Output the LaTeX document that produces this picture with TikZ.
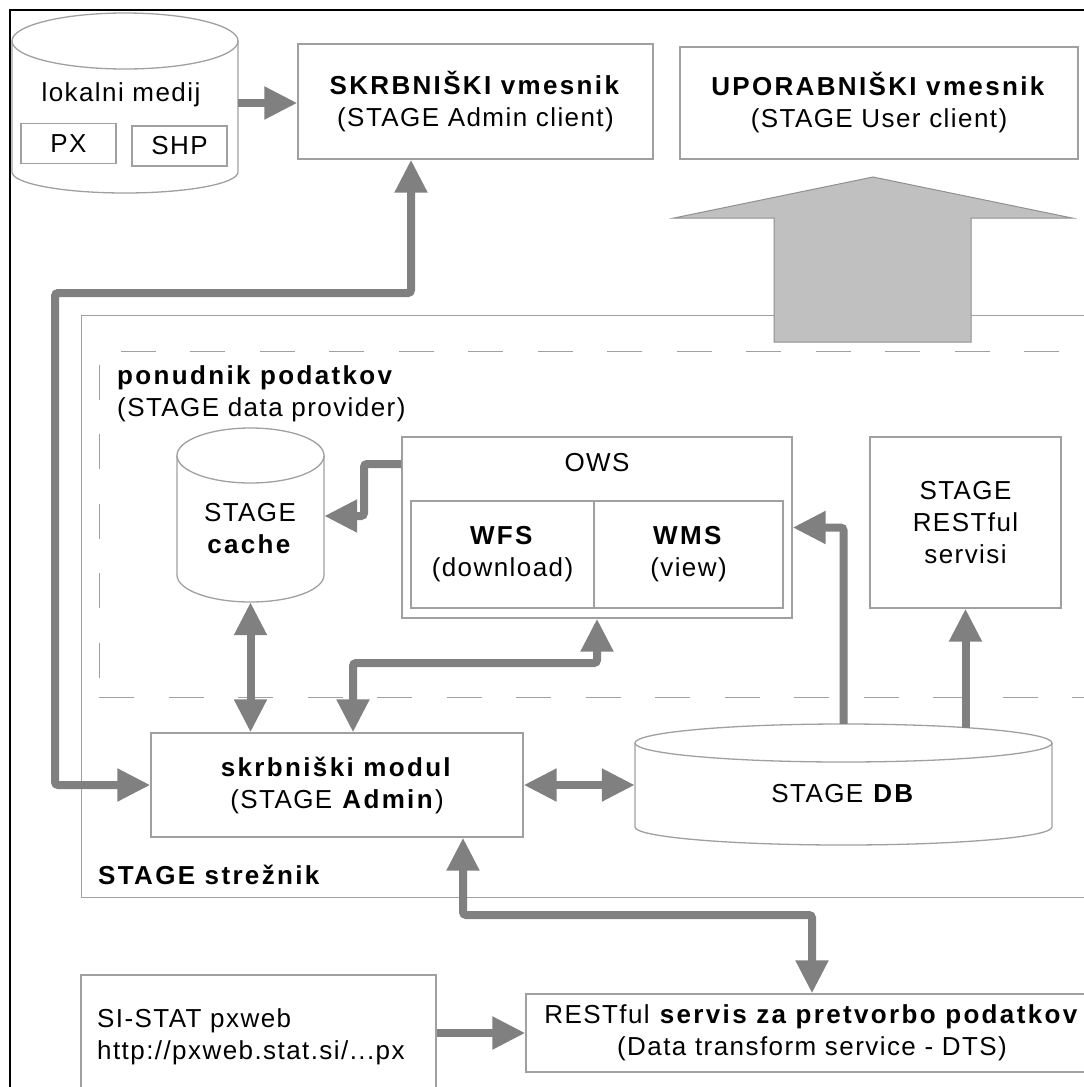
\documentclass[tikz,border=0pt]{standalone}
\usepackage{fontspec}
\setmainfont{Liberation Sans}[LetterSpace=5.5,BoldFeatures={LetterSpace=9}]
\usetikzlibrary{arrows.meta}
\definecolor{boxgray}{HTML}{A0A0A0}
\definecolor{arrgray}{HTML}{808080}
\definecolor{bigfill}{HTML}{C0C0C0}
\definecolor{bigline}{HTML}{909090}
\begin{document}
\begin{tikzpicture}[x=1pt,y=-1pt,
  every node/.style={font=\fontsize{26}{32}\selectfont, inner sep=0pt},
  box/.style={draw=boxgray, line width=1.3pt, fill=white, rectangle, align=center},
  anchorbox/.style={rectangle, inner sep=0pt},
  conn/.style={draw=arrgray, line width=8pt, rounded corners=3pt, -{Triangle[length=33pt,width=31pt]}},
  dconn/.style={conn, {Triangle[length=33pt,width=31pt]}-{Triangle[length=33pt,width=31pt]}},
  cylline/.style={draw=boxgray, line width=1.3pt}
]
\useasboundingbox (0,0) rectangle (1084,1087);
\clip (0,0) rectangle (1084,1087);
\fill[white] (0,0) rectangle (1084,1087);

% outer frame
\draw[line width=2pt] (10,1100) -- (10,10) -- (1100,10);

% server box and data provider box
\node[draw=boxgray, line width=1.3pt, minimum width=1019, minimum height=582, anchor=north west] (srv) at (81,315) {};
\node[draw=boxgray, line width=1.3pt, dash pattern=on 35pt off 34.5pt, minimum width=1002, minimum height=346, anchor=north west] (prov) at (98.5,351) {};
\node[anchor=west] (srvlbl) at (98,875) {\textbf{STAGE strežnik}};
\node[anchor=west, align=left] (provlbl) at (117,394) {\textbf{ponudnik podatkov}\\(STAGE data provider)};

% big arrow to user client
\draw[draw=bigline, line width=1pt, fill=bigfill] (873,177) -- (1072,218) -- (971,218) -- (971,342) -- (774,342) -- (774,218) -- (674,218) -- cycle;

% lokalni medij cylinder
\draw[cylline] (12,41) -- (12,172) arc[start angle=180,end angle=0,x radius=113,y radius=21] -- (238,41);
\draw[cylline] (125,41) ellipse[x radius=113, y radius=28];
\node[anchorbox, minimum width=226, minimum height=180] (lokal) at (125,103) {};
\node (lokaltxt) at (121,95) {lokalni medij};
\node[box, minimum width=95, minimum height=40] (px) at (68.5,143.5) {PX};
\node[box, minimum width=95, minimum height=40] (shp) at (179.5,146) {SHP};

% clients
\node[box, minimum width=355, minimum height=115] (skrb) at (475.5,101.5) {\textbf{SKRBNIŠKI vmesnik}\\(STAGE Admin client)};
\node[box, minimum width=398, minimum height=112] (upor) at (879,103) {\textbf{UPORABNIŠKI vmesnik}\\(STAGE User client)};

% cache cylinder
\draw[cylline] (177,455.5) -- (177,575) arc[start angle=180,end angle=0,x radius=73.5,y radius=27] -- (324,455.5);
\draw[cylline] (250.5,455.5) ellipse[x radius=73.5,y radius=27.5];
\node[anchorbox, minimum width=147, minimum height=174] (cache) at (250.5,515) {};
\node[align=center] (cachetxt) at (250,529) {STAGE\\\textbf{cache}};

% OWS
\node[box, minimum width=390, minimum height=181] (ows) at (597,527.5) {};
\node (owslbl) at (597,463) {OWS};
\node[box, minimum width=183, minimum height=107] (wfs) at (502.5,554.5) {\textbf{WFS}\\(download)};
\node[box, minimum width=189, minimum height=107] (wms) at (688.5,554.5) {\textbf{WMS}\\(view)};

% RESTful servisi
\node[box, minimum width=191, minimum height=171] (rest) at (965.5,522.5) {STAGE\\RESTful\\servisi};

% admin module
\node[box, minimum width=372, minimum height=104] (modul) at (337,785) {\textbf{skrbniški modul}\\(STAGE \textbf{Admin})};

% DB cylinder
\draw[cylline] (635,743) -- (635,827) arc[start angle=180,end angle=0,x radius=208.5,y radius=18] -- (1052,743);
\draw[cylline] (843.5,743) ellipse[x radius=208.5,y radius=19];
\node[anchorbox, minimum width=417, minimum height=121] (db) at (843.5,784.5) {};
\node (dbtxt) at (843.5,794) {STAGE \textbf{DB}};

% DTS and SI-STAT
\node[box, minimum width=572, minimum height=78] (dts) at (812,1033) {RESTful \textbf{servis za pretvorbo podatkov}\\(Data transform service - DTS)};
\node[box, minimum width=355, minimum height=125] (sistat) at (258.5,1037.5) {};
\node[anchor=west, align=left] (sistattxt) at (97,1037) {SI-STAT pxweb\\http://pxweb.stat.si/...px};

% connectors
\draw[conn] (lokal.east) -- (lokal.east -| skrb.west);
\coordinate (k1) at (411,293);
\coordinate (k2) at (55,293);
\coordinate (k3) at (55,785);
\draw[dconn] (k1 |- skrb.south) -- (k1) -- (k2) -- (k3) -- (modul.west);
\coordinate (o1) at (364,464);
\coordinate (o2) at (364,516);
\draw[conn] (o1 -| ows.west) -- (o1) -- (o2) -- (o2 -| cache.east);
\draw[dconn] (cache.south) -- (cache.south |- modul.north);
\coordinate (m1) at (353,663);
\coordinate (m2) at (597,663);
\draw[dconn] (m1 |- modul.north) -- (m1) -- (m2) -- (ows.south);
\draw[dconn] (modul.east) -- (modul.east -| db.west);
\draw[conn] (db.north) -- (db.north |- ows.east) -- (ows.east);
\coordinate (r1) at (965.5,727.6);
\draw[conn] (r1) -- (rest.south);
\coordinate (t1) at (463,915);
\coordinate (t2) at (812,915);
\draw[dconn] (t1 |- modul.south) -- (t1) -- (t2) -- (dts.north);
\draw[conn] (sistat.east |- dts.west) -- (dts.west);
\end{tikzpicture}
\end{document}
